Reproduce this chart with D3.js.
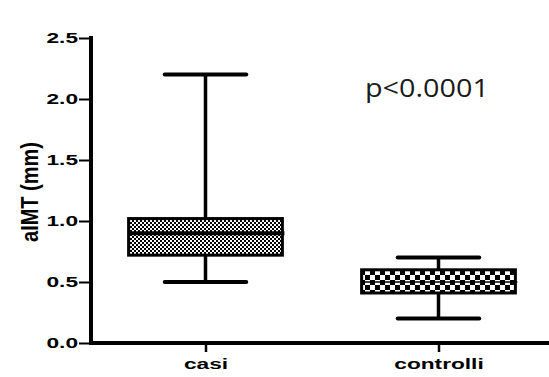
<!DOCTYPE html>
<html><head><meta charset="utf-8">
<script src="https://cdn.jsdelivr.net/npm/d3@7"></script>
<style>html,body{margin:0;padding:0;background:#fff;} svg{display:block;}</style>
</head><body>
<script>
// Box-and-whisker summary for aIMT, cases vs controls
const categories = ["casi", "controlli"];
const whiskerLow = [0.5, 0.2];
const quartile1 = [0.72, 0.41];
const medians = [0.9, 0.5];
const quartile3 = [1.02, 0.6];
const whiskerHigh = [2.2, 0.7];
const yTicks = [0, 0.5, 1.0, 1.5, 2.0, 2.5];
const yTickLabels = ["0.0", "0.5", "1.0", "1.5", "2.0", "2.5"];
const yTitle = "aIMT (mm)";
const pLabel = "p<0.0001";

const W = 549, H = 377;
const svg = d3.select("body").append("svg").attr("width", W).attr("height", H);
const defs = svg.append("defs");

function checker(id, cell) {
  const p = defs.append("pattern").attr("id", id)
    .attr("patternUnits", "userSpaceOnUse")
    .attr("width", cell * 2).attr("height", cell * 2);
  p.append("rect").attr("width", cell * 2).attr("height", cell * 2).attr("fill", "#fff");
  p.append("rect").attr("width", cell).attr("height", cell).attr("fill", "#000");
  p.append("rect").attr("x", cell).attr("y", cell).attr("width", cell).attr("height", cell).attr("fill", "#000");
}
checker("fine", 2);
checker("coarse", 5);
const fills = ["url(#fine)", "url(#coarse)"];

const x = d3.scalePoint().domain(categories).range([89, 555]).padding(0.5);
const y = d3.scaleLinear().domain([0, 2.5]).range([343, 38]);
const step = x.step();
const boxW = step * 0.66;
const capW = step * 0.35;

// stretch text horizontally to the wide lettering of the plot
function widen(sel, factor) {
  sel.each(function () {
    const len = this.getComputedTextLength();
    d3.select(this).attr("textLength", len * factor).attr("lengthAdjust", "spacingAndGlyphs");
  });
}

// Y axis
const yAxis = svg.append("g").attr("transform", "translate(91,0)")
  .call(d3.axisLeft(y).tickValues(yTicks).tickFormat((d, i) => yTickLabels[i]).tickSize(12).tickPadding(1));
yAxis.select(".domain").remove();
yAxis.selectAll(".tick line").attr("stroke", "#000").attr("stroke-width", 2);
yAxis.selectAll(".tick text")
  .attr("font-family", "Liberation Sans, Arial, sans-serif")
  .attr("font-weight", "bold").attr("font-size", 14).attr("fill", "#000");
widen(yAxis.selectAll(".tick text"), 1.62);

// X axis
const xAxis = svg.append("g").attr("transform", "translate(0,343)")
  .call(d3.axisBottom(x).tickSize(9).tickPadding(7));
xAxis.select(".domain").remove();
xAxis.selectAll(".tick line").attr("stroke", "#000").attr("stroke-width", 2.5);
xAxis.selectAll(".tick text")
  .attr("font-family", "Liberation Sans, Arial, sans-serif")
  .attr("font-weight", "bold").attr("font-size", 14).attr("fill", "#000");
widen(xAxis.selectAll(".tick text"), 1.62);

// axis lines
svg.append("line").attr("x1", 91).attr("x2", 91).attr("y1", y(2.5) - 2).attr("y2", y(0) + 2)
  .attr("stroke", "#000").attr("stroke-width", 4);
svg.append("line").attr("x1", 89).attr("x2", W).attr("y1", y(0)).attr("y2", y(0))
  .attr("stroke", "#000").attr("stroke-width", 4);

// boxes
const g = svg.append("g");
categories.forEach((c, i) => {
  const cx = x(c);
  g.append("line").attr("x1", cx).attr("x2", cx).attr("y1", y(whiskerHigh[i])).attr("y2", y(quartile3[i]))
    .attr("stroke", "#000").attr("stroke-width", 3.5);
  g.append("line").attr("x1", cx).attr("x2", cx).attr("y1", y(quartile1[i])).attr("y2", y(whiskerLow[i]))
    .attr("stroke", "#000").attr("stroke-width", 3.5);
  [whiskerHigh[i], whiskerLow[i]].forEach(v => {
    g.append("line").attr("x1", cx - capW / 2).attr("x2", cx + capW / 2).attr("y1", y(v)).attr("y2", y(v))
      .attr("stroke", "#000").attr("stroke-width", 4).attr("stroke-linecap", "round");
  });
  g.append("rect").attr("x", cx - boxW / 2).attr("width", boxW)
    .attr("y", y(quartile3[i])).attr("height", y(quartile1[i]) - y(quartile3[i]))
    .attr("fill", fills[i]).attr("stroke", "#000").attr("stroke-width", 3);
  g.append("line").attr("x1", cx - boxW / 2).attr("x2", cx + boxW / 2 + 2).attr("y1", y(medians[i])).attr("y2", y(medians[i]))
    .attr("stroke", "#000").attr("stroke-width", i === 0 ? 4 : 1.5);
});

// axis title
svg.append("text")
  .attr("transform", `translate(38,${192}) rotate(-90) scale(1,1.2)`)
  .attr("text-anchor", "middle")
  .attr("font-family", "Liberation Sans, Arial, sans-serif")
  .attr("font-weight", "bold")
  .attr("font-size", 20).attr("fill", "#000")
  .text(yTitle);

// significance note
svg.append("text").attr("x", 365).attr("y", 97)
  .attr("font-family", "Open Sans, sans-serif")
  .attr("font-size", 26).attr("fill", "#1a1a1a")
  .attr("textLength", 124).attr("lengthAdjust", "spacingAndGlyphs")
  .text(pLabel);
</script>
</body></html>
